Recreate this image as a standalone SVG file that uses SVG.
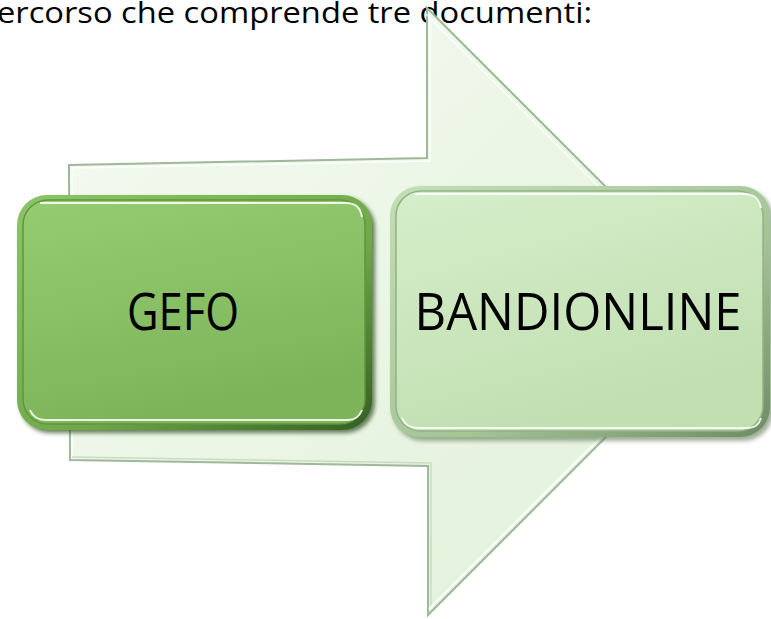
<svg xmlns="http://www.w3.org/2000/svg" width="771" height="619" viewBox="0 0 771 619">
  <defs>
    <linearGradient id="arrowFill" x1="0" y1="0" x2="1" y2="1">
      <stop offset="0" stop-color="#f5fbf2"/>
      <stop offset="1" stop-color="#e0f0d8"/>
    </linearGradient>
    <linearGradient id="gefoEdge" x1="0" y1="0" x2="1" y2="1">
      <stop offset="0" stop-color="#8cc567"/>
      <stop offset="0.6" stop-color="#6ea849"/>
      <stop offset="1" stop-color="#355d22"/>
    </linearGradient>
    <linearGradient id="gefoFill" x1="0" y1="0" x2="0.3" y2="1">
      <stop offset="0" stop-color="#96cc71"/>
      <stop offset="1" stop-color="#7db45a"/>
    </linearGradient>
    <linearGradient id="bandEdge" x1="0" y1="0" x2="1" y2="1">
      <stop offset="0" stop-color="#c3dfb5"/>
      <stop offset="0.6" stop-color="#a4c496"/>
      <stop offset="1" stop-color="#6e8c63"/>
    </linearGradient>
    <linearGradient id="bandFill" x1="0" y1="0" x2="0.4" y2="1">
      <stop offset="0" stop-color="#d6eecb"/>
      <stop offset="1" stop-color="#c1dfb1"/>
    </linearGradient>
    <filter id="shadow" x="-10%" y="-10%" width="120%" height="120%">
      <feGaussianBlur stdDeviation="2"/>
    </filter>
    <style>
      .label { font-family: "Open Sans", "Liberation Sans", sans-serif; fill: #000000; }
      .title { font-family: "Open Sans", "Liberation Sans", sans-serif; font-size: 29px; fill: #000000; }
      .box-label { font-size: 52px; text-anchor: middle; }
      .hl { fill: none; stroke: #ffffff; stroke-opacity: 0.85; stroke-width: 2; }
    </style>
  </defs>

  <rect width="771" height="619" fill="#ffffff"/>

  <text class="title" x="-3" y="23" textLength="595" lengthAdjust="spacingAndGlyphs">ercorso che comprende tre documenti:</text>

  <g id="arrow">
    <polygon points="69,165 427,158 427,8 731,312 428,615 428,466 70,460" fill="url(#arrowFill)" stroke="#9fb899" stroke-width="2" stroke-linejoin="miter"/>
    <polyline points="72,458 72,168 430,161 430,14" fill="none" stroke="#ffffff" stroke-width="1.5" stroke-opacity="0.9"/>
    <polyline points="431,608 431,463 72,457" fill="none" stroke="#c9dcc3" stroke-width="1.5"/>
    <line x1="428" y1="12" x2="728" y2="312" stroke="#ffffff" stroke-width="1.5" stroke-opacity="0.8" transform="translate(-2,2)"/>
    <line x1="431" y1="611" x2="727" y2="315" stroke="#ffffff" stroke-width="2" stroke-opacity="0.9" transform="translate(-2,-2)"/>
  </g>

  <g id="node-gefo">
    <rect x="20" y="198" width="355" height="235" rx="30" fill="#2b4a1b" opacity="0.7" filter="url(#shadow)"/>
    <rect x="17" y="195" width="355" height="235" rx="30" fill="url(#gefoEdge)"/>
    <rect x="23" y="200" width="342" height="224" rx="25" fill="url(#gefoFill)" stroke="#5f973c" stroke-width="1.5"/>
    <path class="hl" d="M40,203 H346 Q360,203 362,217"/>
    <path class="hl" d="M30,410 Q34,420 46,420 H348 Q358,420 362,410"/>
    <text class="label box-label" x="183" y="330" textLength="112" lengthAdjust="spacingAndGlyphs">GEFO</text>
  </g>

  <g id="node-bandionline">
    <rect x="393" y="189" width="380" height="252" rx="30" fill="#5f7a55" opacity="0.6" filter="url(#shadow)"/>
    <rect x="390" y="186" width="380" height="251" rx="30" fill="url(#bandEdge)"/>
    <rect x="396" y="191" width="367" height="240" rx="25" fill="url(#bandFill)" stroke="#93b186" stroke-width="1.5"/>
    <path class="hl" d="M414,194 H744 Q758,194 761,208"/>
    <path class="hl" d="M402,418 Q406,428 418,428 H748 Q758,428 761,418"/>
    <text class="label box-label" x="578" y="330" textLength="327" lengthAdjust="spacingAndGlyphs">BANDIONLINE</text>
  </g>
</svg>
